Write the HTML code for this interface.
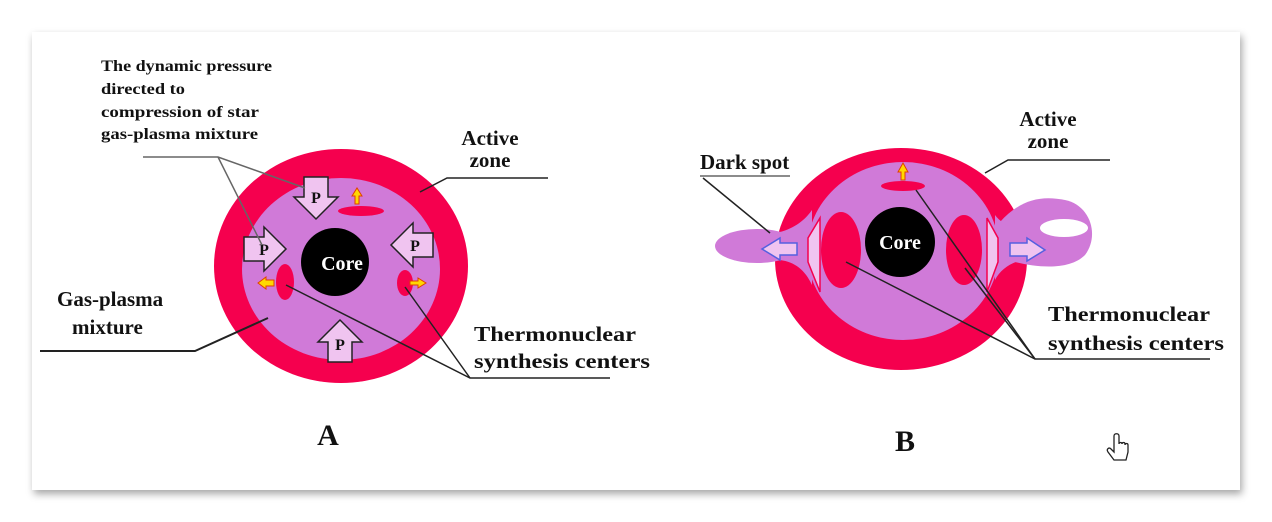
<!DOCTYPE html>
<html><head><meta charset="utf-8"><style>
html,body{margin:0;padding:0;background:#fff;width:1272px;height:522px;overflow:hidden}
svg{display:block}
text{font-family:"Liberation Serif",serif;font-weight:bold;fill:#111}
</style></head><body>
<svg width="1272" height="522" viewBox="0 0 1272 522">
<defs>
<filter id="sh" x="-5%" y="-5%" width="110%" height="115%"><feDropShadow dx="2" dy="4" stdDeviation="4" flood-color="#000" flood-opacity="0.35"/></filter>
<g id="pa"><polygon points="-12,-20 12,-20 12,0 22,0 0,22 -22,0 -12,0" fill="#f0c4f0" stroke="#222" stroke-width="1.5"/><text x="0" y="6" font-size="16" text-anchor="middle">P</text></g>
</defs>
<rect x="32" y="32" width="1208" height="458" fill="#fff" filter="url(#sh)"/>

<!-- Diagram A -->
<ellipse cx="341" cy="266" rx="127" ry="117" fill="#f5004e"/>
<ellipse cx="341" cy="269" rx="99" ry="91" fill="#d07ad8"/>
<circle cx="335" cy="262" r="34" fill="#000"/>
<text x="342" y="270" font-size="20" text-anchor="middle" style="fill:#fff">Core</text>
<ellipse cx="361" cy="211" rx="23" ry="5" fill="#f5004e"/>
<polygon points="355,204 355,196 352,196 357,188 362,196 359,196 359,204" fill="#ffd800" stroke="#e04000" stroke-width="1"/>
<ellipse cx="285" cy="282" rx="9" ry="18" fill="#f5004e"/>
<polygon points="274,280 266,280 266,277 258,283 266,289 266,286 274,286" fill="#ffd800" stroke="#e04000" stroke-width="1"/>
<ellipse cx="405" cy="283" rx="8" ry="13" fill="#f5004e"/>
<polygon points="410,281 418,281 418,278 426,283 418,288 418,285 410,285" fill="#ffd800" stroke="#e04000" stroke-width="1"/>
<use href="#pa" transform="translate(316,197)"/>
<g transform="translate(264,249) rotate(-90)"><polygon points="-12,-20 12,-20 12,0 22,0 0,22 -22,0 -12,0" fill="#f0c4f0" stroke="#222" stroke-width="1.5"/></g>
<text x="264" y="255" font-size="16" text-anchor="middle">P</text>
<g transform="translate(413,245) rotate(90)"><polygon points="-12,-20 12,-20 12,0 22,0 0,22 -22,0 -12,0" fill="#f0c4f0" stroke="#222" stroke-width="1.5"/></g>
<text x="415" y="251" font-size="16" text-anchor="middle">P</text>
<g transform="translate(340,342) rotate(180)"><polygon points="-12,-20 12,-20 12,0 22,0 0,22 -22,0 -12,0" fill="#f0c4f0" stroke="#222" stroke-width="1.5"/></g>
<text x="340" y="350" font-size="16" text-anchor="middle">P</text>

<g stroke="#222" stroke-width="1.5" fill="none">
<polyline points="143,157 218,157 305,188" stroke="#666"/>
<polyline points="218,157 262,245" stroke="#666"/>
<polyline points="420,192 447,178 548,178"/>
<polyline points="40,351 195,351 268,318" stroke-width="2"/>
<polyline points="610,378 470,378 286,285"/>
<polyline points="470,378 405,287"/>
</g>
<text x="101" y="71" font-size="16" textLength="171" lengthAdjust="spacingAndGlyphs">The dynamic pressure</text>
<text x="101" y="94" font-size="16" textLength="84" lengthAdjust="spacingAndGlyphs">directed to</text>
<text x="101" y="117" font-size="16" textLength="158" lengthAdjust="spacingAndGlyphs">compression of star</text>
<text x="101" y="139" font-size="16" textLength="157" lengthAdjust="spacingAndGlyphs">gas-plasma mixture</text>
<text x="490" y="145" font-size="21" text-anchor="middle">Active</text>
<text x="490" y="167" font-size="21" text-anchor="middle">zone</text>
<text x="57" y="306" font-size="21">Gas-plasma</text>
<text x="72" y="334" font-size="21">mixture</text>
<text x="474" y="341" font-size="21" textLength="162" lengthAdjust="spacingAndGlyphs">Thermonuclear</text>
<text x="474" y="368" font-size="21" textLength="176" lengthAdjust="spacingAndGlyphs">synthesis centers</text>
<text x="328" y="445" font-size="30" text-anchor="middle">A</text>

<!-- Diagram B -->
<ellipse cx="901" cy="259" rx="126" ry="111" fill="#f5004e"/>
<ellipse cx="757" cy="246" rx="42" ry="17" fill="#d07ad8"/>
<path d="M1000,222 C1020,200 1040,195 1065,200 C1090,205 1100,235 1085,255 C1070,270 1040,268 1015,262 Z" fill="#d07ad8"/>
<ellipse cx="1064" cy="228" rx="24" ry="9" fill="#fff"/>
<path d="M780,232 C795,228 805,220 812,210 L812,285 C805,270 795,262 780,260 Z" fill="#d07ad8"/>
<path d="M1022,232 C1010,228 1000,222 995,215 L995,280 C1000,270 1010,263 1022,260 Z" fill="#d07ad8"/>
<ellipse cx="903" cy="251" rx="96" ry="89" fill="#d07ad8"/>
<circle cx="900" cy="242" r="35" fill="#000"/>
<text x="900" y="249" font-size="20" text-anchor="middle" style="fill:#fff">Core</text>
<ellipse cx="903" cy="186" rx="22" ry="5" fill="#f5004e"/>
<polygon points="901,180 901,172 898,172 903,163 908,172 905,172 905,180" fill="#ffd800" stroke="#e04000" stroke-width="1"/>
<ellipse cx="841" cy="250" rx="20" ry="38" fill="#f5004e"/>
<ellipse cx="964" cy="250" rx="18" ry="35" fill="#f5004e"/>
<polygon points="820,218 820,292 808,262 808,238" fill="#f0c4f0" stroke="#f5004e" stroke-width="1.5"/>
<polygon points="987,218 987,292 998,262 998,238" fill="#f0c4f0" stroke="#f5004e" stroke-width="1.5"/>
<polygon points="797,243 780,243 780,238 762,249 780,260 780,255 797,255" fill="#f0c4f0" stroke="#5560e0" stroke-width="1.5"/>
<polygon points="1010,243 1027,243 1027,238 1045,250 1027,261 1027,256 1010,256" fill="#f0c4f0" stroke="#5560e0" stroke-width="1.5"/>
<g stroke="#222" stroke-width="1.5" fill="none">
<polyline points="700,176 790,176" stroke="#666"/>
<polyline points="703,178 770,233"/>
<polyline points="985,173 1008,160 1110,160"/>
<polyline points="1210,359 1035,359 846,262"/>
<polyline points="1035,359 965,268"/>
<polyline points="1035,359 916,190"/>
</g>
<text x="700" y="169" font-size="21">Dark spot</text>
<text x="1048" y="126" font-size="21" text-anchor="middle">Active</text>
<text x="1048" y="148" font-size="21" text-anchor="middle">zone</text>
<text x="1048" y="321" font-size="21" textLength="162" lengthAdjust="spacingAndGlyphs">Thermonuclear</text>
<text x="1048" y="350" font-size="21" textLength="176" lengthAdjust="spacingAndGlyphs">synthesis centers</text>
<text x="905" y="451" font-size="30" text-anchor="middle">B</text>
<g stroke="#222" stroke-width="1.3" fill="#fff">
<path d="M1114,436 L1114,452 L1111,449 C1109,447 1106,449 1108,452 L1114,460 L1126,460 L1128,452 L1128,445 C1128,443 1125,443 1125,445 L1125,444 C1125,442 1122,442 1122,444 C1122,442 1119,442 1119,444 L1119,436 C1119,433 1114,433 1114,436 Z"/>
</g>
</svg>
</body></html>
